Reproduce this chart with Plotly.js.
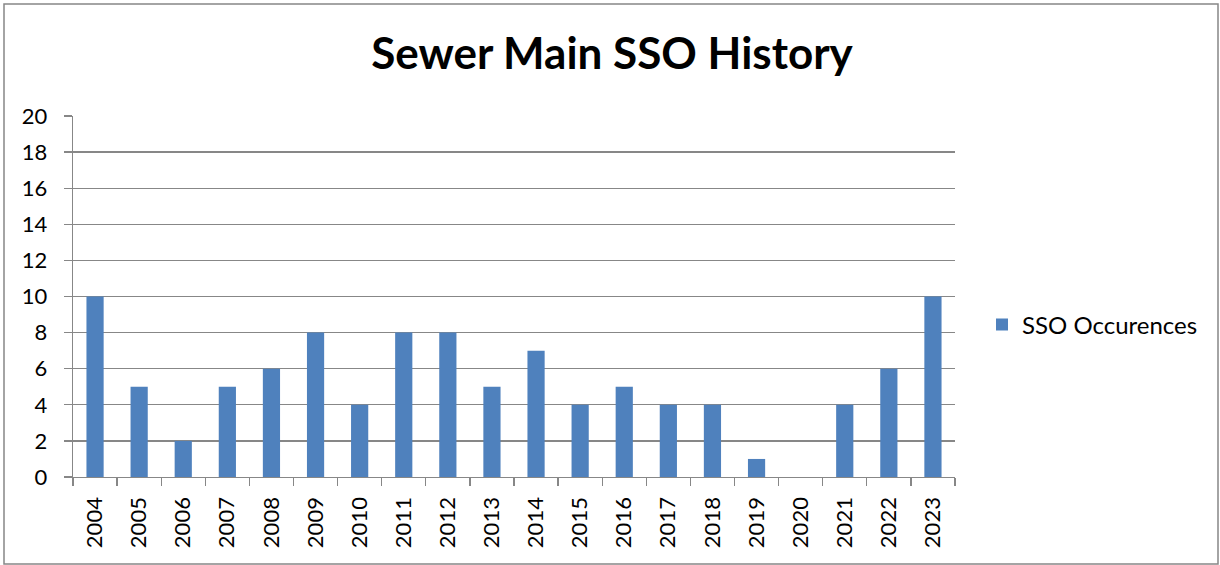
<!DOCTYPE html>
<html><head><meta charset="utf-8">
<script src="https://cdn.plot.ly/plotly-3.0.1.min.js"></script>
<style>html,body{margin:0;padding:0;background:#fff}#c{width:1220px;height:565px}</style>
</head><body><div id="c"></div>
<script>
const years = ['2004','2005','2006','2007','2008','2009','2010','2011','2012','2013','2014','2015','2016','2017','2018','2019','2020','2021','2022','2023'];
const occurrences = [10,5,2,5,6,8,4,8,8,5,7,4,5,4,4,1,0,4,6,10];
const yTicks = [0,2,4,6,8,10,12,14,16,18,20];
const seriesName = 'SSO Occurences';
const titleText = 'Sewer Main SSO History';

const F = 'Lato, "Open Sans", sans-serif';
const L = 73, R = 955, T = 116, B = 477, W = 1220, H = 565;
const pw = R - L, ph = B - T;
const px = v => (v - L) / pw, py = v => (B - v) / ph;
const GRID = '#878787';

Plotly.newPlot('c', [{
  type: 'bar', x: years, y: occurrences, name: seriesName,
  marker: {color: '#4F81BD'}
}], {
  width: W, height: H,
  margin: {l: L, r: W - R, t: T, b: H - B, pad: 0},
  paper_bgcolor: '#fff', plot_bgcolor: '#fff',
  bargap: 0.61,
  showlegend: true,
  title: {text: '<b>' + titleText + '</b>', font: {family: F, size: 44, color: '#000'},
          xref: 'container', x: 612 / W, xanchor: 'center',
          yref: 'container', y: 1 - 54 / H, yanchor: 'middle'},
  xaxis: {type: 'category', tickson: 'boundaries', ticks: 'outside', ticklen: 8, tickcolor: GRID, tickwidth: 1.3,
          showline: true, linecolor: GRID, linewidth: 1.3, showgrid: false,
          tickangle: -90, tickfont: {family: F, size: 22, color: '#000'}, ticklabelstandoff: 10},
  yaxis: {range: [0, 20], tickvals: yTicks, ticks: 'outside', ticklen: 8, tickcolor: GRID, tickwidth: 1.3,
          showline: true, linecolor: GRID, linewidth: 1.3,
          showgrid: true, gridcolor: GRID, gridwidth: 1.3, zeroline: false,
          tickfont: {family: F, size: 22, color: '#000'}, ticklabelstandoff: 12},
  legend: {x: px(982), y: py(325), xanchor: 'left', yanchor: 'middle',
           font: {family: F, size: 24, color: '#000'}, bgcolor: 'rgba(0,0,0,0)'},
  shapes: [{type: 'rect', xref: 'paper', yref: 'paper',
            x0: px(4), x1: px(1218), y0: py(564), y1: py(4),
            line: {color: GRID, width: 1.5}, fillcolor: 'rgba(0,0,0,0)', layer: 'below'}]
}, {displayModeBar: false, staticPlot: true});
</script></body></html>
